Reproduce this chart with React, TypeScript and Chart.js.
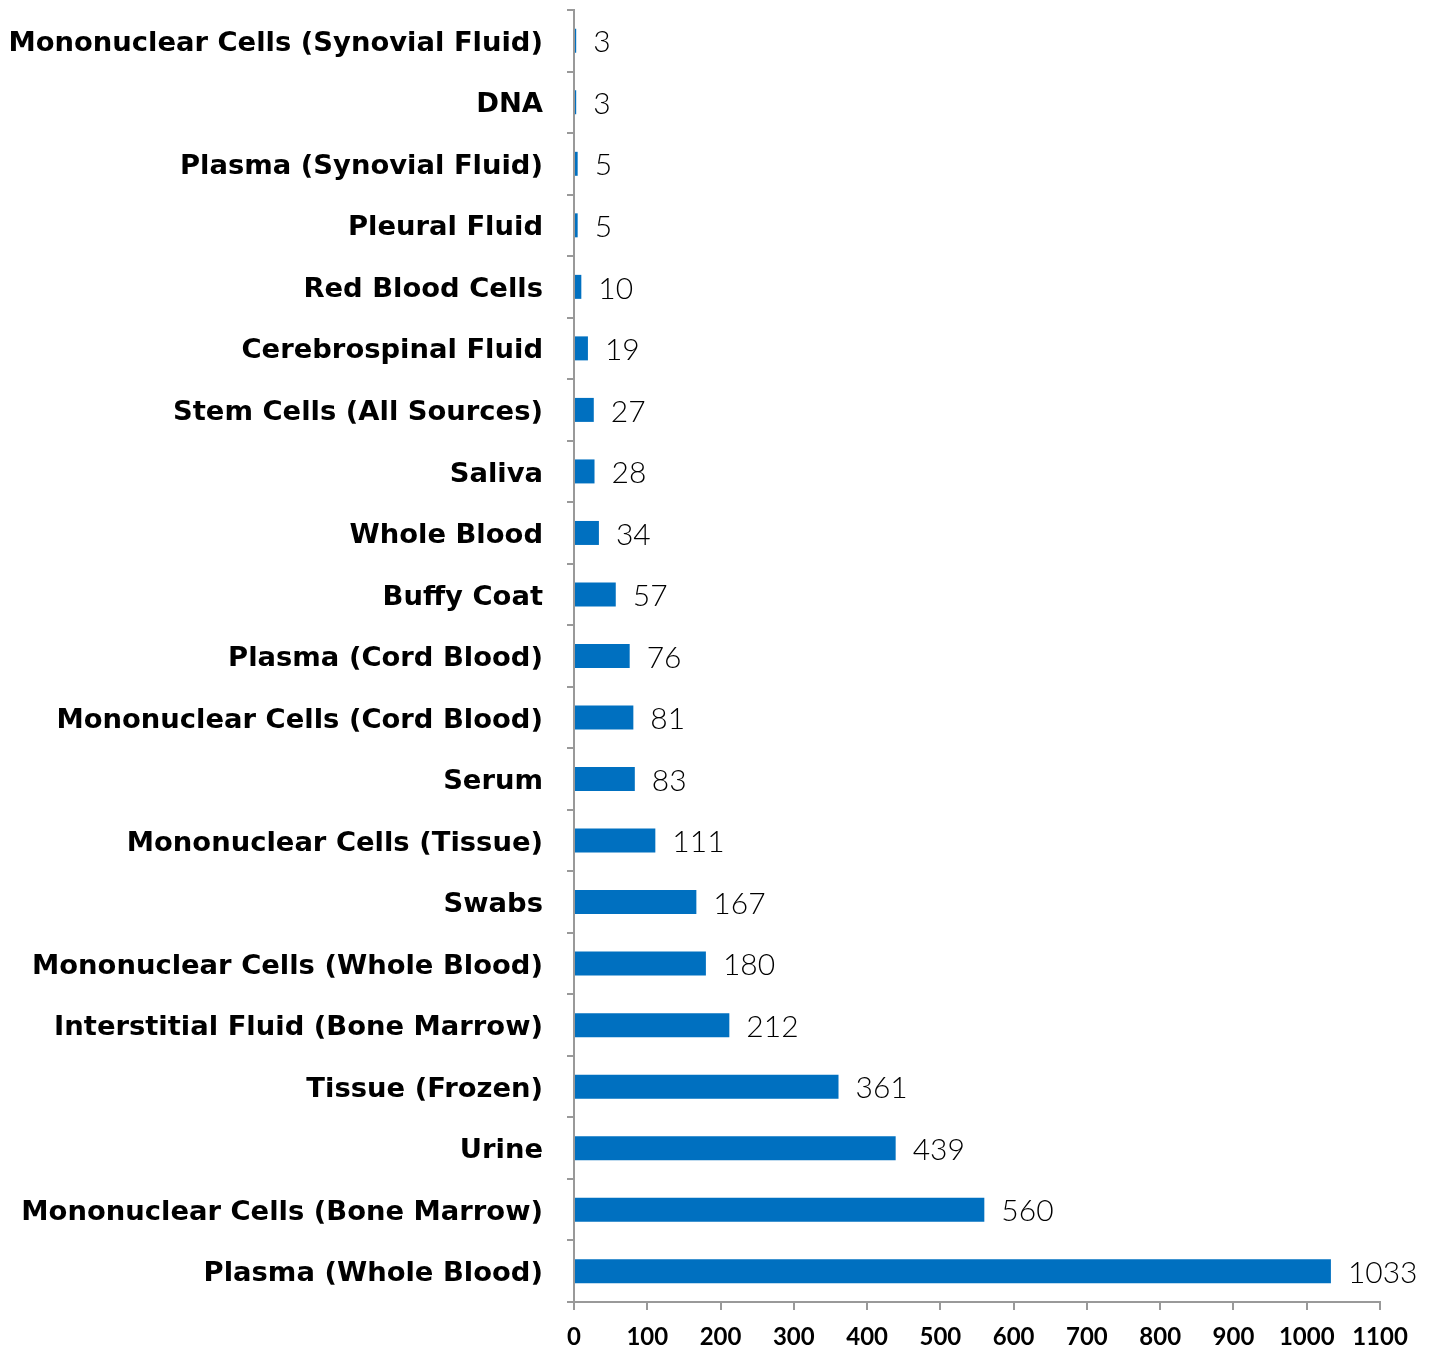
import React, { useEffect, useRef } from "react";
import { Chart, registerables } from "chart.js";

Chart.register(...registerables);

const categories = [
  "Mononuclear Cells (Synovial Fluid)",
  "DNA",
  "Plasma (Synovial Fluid)",
  "Pleural Fluid",
  "Red Blood Cells",
  "Cerebrospinal Fluid",
  "Stem Cells (All Sources)",
  "Saliva",
  "Whole Blood",
  "Buffy Coat",
  "Plasma (Cord Blood)",
  "Mononuclear Cells (Cord Blood)",
  "Serum",
  "Mononuclear Cells (Tissue)",
  "Swabs",
  "Mononuclear Cells (Whole Blood)",
  "Interstitial Fluid (Bone Marrow)",
  "Tissue (Frozen)",
  "Urine",
  "Mononuclear Cells (Bone Marrow)",
  "Plasma (Whole Blood)",
];

const values = [3, 3, 5, 5, 10, 19, 27, 28, 34, 57, 76, 81, 83, 111, 167, 180, 212, 361, 439, 560, 1033];

const xMin = 0;
const xMax = 1100;
const xStep = 100;

const valueLabelPlugin = {
  id: "valueLabels",
  afterDatasetsDraw(chart: any) {
    const ctx = chart.ctx;
    const meta = chart.getDatasetMeta(0);
    ctx.save();
    ctx.font = "300 30px Lato";
    ctx.fillStyle = "#000";
    ctx.textAlign = "left";
    ctx.textBaseline = "middle";
    meta.data.forEach((bar: any, i: number) => {
      ctx.fillText(String(values[i]), bar.x + 17, bar.y + 2);
    });
    ctx.restore();
  },
};

export default function App() {
  const ref = useRef<HTMLCanvasElement>(null);
  useEffect(() => {
    document.body.style.margin = "0";
    const chart = new Chart(ref.current!, {
      type: "bar",
      data: {
        labels: categories,
        datasets: [
          {
            data: values,
            backgroundColor: "#0070C0",
            borderWidth: 0,
            barPercentage: 0.39,
            categoryPercentage: 1,
          },
        ],
      },
      options: {
        indexAxis: "y",
        animation: false,
        responsive: false,
        devicePixelRatio: 1,
        layout: { autoPadding: false, padding: { top: 10, right: 56, left: 0, bottom: 0 } },
        plugins: { legend: { display: false }, tooltip: { enabled: false } },
        scales: {
          y: {
            offset: true,
            grid: {
              offset: true,
              drawOnChartArea: false,
              drawTicks: true,
              tickLength: 7,
              color: "#999999",
              lineWidth: 2,
            },
            border: { color: "#999999", width: 2 },
            ticks: {
              color: "#000",
              padding: 24,
              labelOffset: 3,
              font: { family: "DejaVu Sans", weight: "bold", size: 27.4 },
              autoSkip: false,
            },
            afterFit: (scale: any) => {
              scale.width = 574;
              scale.paddingTop = 0;
              scale.paddingBottom = 0;
            },
          },
          x: {
            min: xMin,
            max: xMax,
            grid: {
              drawOnChartArea: false,
              drawTicks: true,
              tickLength: 8,
              color: "#999999",
              lineWidth: 2,
            },
            border: { color: "#999999", width: 2 },
            ticks: {
              stepSize: xStep,
              color: "#000",
              padding: 13,
              maxRotation: 0,
              callback: (v: any) => String(v),
              font: { family: "Lato", weight: "bold", size: 24 },
            },
            afterFit: (scale: any) => {
              scale.height = 47;
              scale.paddingLeft = 0;
              scale.paddingRight = 0;
            },
          },
        },
      },
      plugins: [valueLabelPlugin],
    });
    return () => chart.destroy();
  }, []);
  return (
    <div style={{ position: "absolute", left: 0, top: 0, width: 1436, height: 1349 }}>
      <canvas ref={ref} width={1436} height={1349} />
    </div>
  );
}
